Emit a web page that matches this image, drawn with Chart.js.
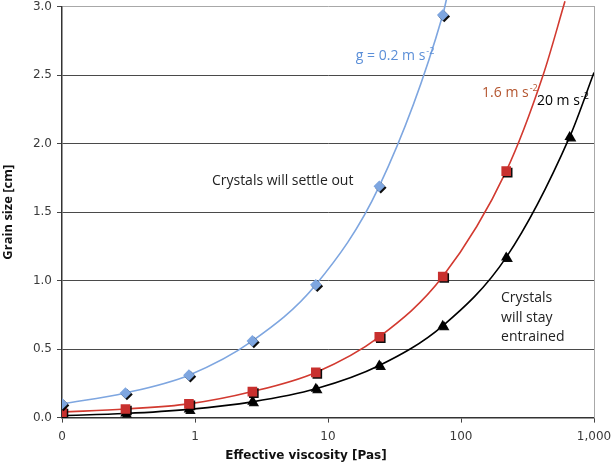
<!DOCTYPE html>
<html>
<head>
<meta charset="utf-8">
<script src="https://cdn.jsdelivr.net/npm/chart.js@4.4.0/dist/chart.umd.min.js"></script>
<style>
  html, body { margin: 0; padding: 0; background: #fff; }
  #wrap { width: 612px; height: 463px; }
</style>
</head>
<body>
<div id="wrap"><canvas id="chart"></canvas></div>
<script>
// effective viscosity [Pas] of each run, shared by all three series
var viscosity = [0.1, 0.3, 0.9, 2.7, 8.1, 24.3, 72.9, 218.7, 656.1];
// grain size [cm] for each gravity
var grainG02 = [0.10, 0.18, 0.31, 0.56, 0.97, 1.69, 2.94];
var grainG16 = [0.04, 0.063, 0.10, 0.19, 0.33, 0.59, 1.03, 1.80];
var grainG20 = [0.015, 0.03, 0.06, 0.115, 0.21, 0.38, 0.67, 1.17, 2.05];
// where each drawn curve carries on past its last measured point
var curveEndG02 = [[78, 3.06]];
var curveEndG16 = [[414, 2.5], [605, 3.04]];
var curveEndG20 = [[1000, 2.52]];

var xTicks = [0.1, 1, 10, 100, 1000];
var xTickLabels = ['0', '1', '10', '100', '1,000'];
var yTicks = [0, 0.5, 1.0, 1.5, 2.0, 2.5, 3.0];

var notes = [
  { text: 'Crystals will settle out', x: 1.34, y: 1.73, color: '#222' },
  { text: 'Crystals', x: 200, y: 0.873, color: '#222' },
  { text: 'will stay', x: 200, y: 0.728, color: '#222' },
  { text: 'entrained', x: 200, y: 0.588, color: '#222' },
  { text: 'g = 0.2 m s', sup: '-2', x: 16.2, y: 2.64, color: '#5b8fd8' },
  { text: '1.6 m s', sup: '-2', x: 144, y: 2.37, color: '#b4552f' },
  { text: '20 m s', sup: '-2', x: 372, y: 2.31, color: '#000' }
];

function points(ys) {
  return ys.map(function(v, i) { return { x: viscosity[i], y: v }; });
}
function curve(ys, ends) {
  return points(ys).concat(ends.map(function(p) { return { x: p[0], y: p[1] }; }));
}

var notesPlugin = {
  id: 'notes',
  afterDatasetsDraw: function(chart) {
    var ctx = chart.ctx, xs = chart.scales.x, ys = chart.scales.y;
    notes.forEach(function(n) {
      var px = xs.getPixelForValue(n.x), py = ys.getPixelForValue(n.y);
      ctx.save();
      ctx.fillStyle = n.color;
      ctx.textBaseline = 'middle';
      ctx.textAlign = 'left';
      ctx.font = '14px "Open Sans"';
      ctx.fillText(n.text, px, py);
      if (n.sup) {
        var w = ctx.measureText(n.text).width;
        ctx.font = '9px "Open Sans"';
        ctx.fillText(n.sup, px + w + 1, py - 5);
      }
      ctx.restore();
    });
  }
};

// dark offset shadow behind the markers
var shadowPlugin = {
  id: 'markerShadow',
  beforeDatasetDraw: function(chart, args) {
    if (!chart.data.datasets[args.index].shadow) return;
    var ctx = chart.ctx;
    ctx.save();
    ctx.shadowColor = 'rgba(0,0,0,0.95)';
    ctx.shadowOffsetX = 1.5;
    ctx.shadowOffsetY = 1.5;
    ctx.shadowBlur = 0;
  },
  afterDatasetDraw: function(chart, args) {
    if (chart.data.datasets[args.index].shadow) chart.ctx.restore();
  }
};

var curveClip = { left: 0, top: 8, right: 0, bottom: 0 };
var tickFont = { family: 'DejaVu Sans', size: 12 };

new Chart(document.getElementById('chart'), {
  type: 'scatter',
  data: {
    datasets: [
      { label: 'g = 0.2', data: points(grainG02), pointStyle: 'rectRot', pointRadius: 5.8, backgroundColor: '#7ea6e0', borderWidth: 0, shadow: true, order: 1 },
      { label: 'g = 1.6', data: points(grainG16), pointStyle: 'rect', pointRadius: 6.8, backgroundColor: '#c8302e', borderWidth: 0, shadow: true, order: 1 },
      { label: 'g = 20', data: points(grainG20), pointStyle: 'triangle', pointRadius: 6, backgroundColor: '#000', borderWidth: 0, shadow: true, order: 1 },
      { label: 'g = 0.2 curve', data: curve(grainG02, curveEndG02), showLine: true, pointRadius: 0, borderColor: '#7ea6e0', borderWidth: 1.6, cubicInterpolationMode: 'monotone', clip: curveClip, order: 2 },
      { label: 'g = 1.6 curve', data: curve(grainG16, curveEndG16), showLine: true, pointRadius: 0, borderColor: '#d23a30', borderWidth: 1.6, cubicInterpolationMode: 'monotone', clip: curveClip, order: 2 },
      { label: 'g = 20 curve', data: curve(grainG20, curveEndG20), showLine: true, pointRadius: 0, borderColor: '#000', borderWidth: 1.6, cubicInterpolationMode: 'monotone', clip: curveClip, order: 2 }
    ]
  },
  options: {
    responsive: true, maintainAspectRatio: false, animation: false,
    layout: { padding: { top: 6, left: 0, right: 0, bottom: 0 } },
    plugins: {
      legend: { display: false },
      tooltip: { enabled: false },
      title: {
        display: true, position: 'bottom', text: 'Effective viscosity [Pas]', color: '#111',
        font: { family: 'DejaVu Sans', size: 12, weight: 'bold' }, padding: { top: 2, bottom: 0 }
      }
    },
    scales: {
      x: {
        type: 'logarithmic', min: 0.1, max: 1000,
        afterBuildTicks: function(scale) { scale.ticks = xTicks.map(function(v) { return { value: v }; }); },
        afterFit: function(scale) { scale.height = 29; scale.paddingLeft = 0; scale.paddingRight = 0; },
        ticks: {
          color: '#3a3a3a', font: tickFont, maxRotation: 0, padding: 7,
          callback: function(v) { return xTickLabels[xTicks.indexOf(v)]; }
        },
        grid: { drawOnChartArea: false, tickLength: 5, tickColor: '#444', tickWidth: 1 },
        border: { color: '#333', width: 1.5 }
      },
      y: {
        min: 0, max: 3,
        afterBuildTicks: function(scale) { scale.ticks = yTicks.map(function(v) { return { value: v }; }); },
        afterFit: function(scale) { scale.width = 62; scale.paddingTop = 0; scale.paddingBottom = 0; },
        ticks: { color: '#3a3a3a', font: tickFont, padding: 5, callback: function(v) { return v.toFixed(1); } },
        grid: {
          tickLength: 5, tickColor: '#444',
          color: function(c) { return c.tick && c.tick.value === 3 ? '#a8a8a8' : '#4a4a4a'; }
        },
        border: { color: '#333', width: 1.5 },
        title: {
          display: true, text: 'Grain size [cm]', color: '#111', padding: { top: 0, bottom: 0 },
          font: { family: 'Open Sans', size: 13, weight: 'bold' }
        }
      },
      y2: {
        position: 'right', min: 0, max: 3,
        afterFit: function(scale) { scale.width = 18; scale.paddingTop = 0; scale.paddingBottom = 0; },
        ticks: { display: false },
        grid: { display: false },
        border: { color: '#a8a8a8', width: 1 }
      }
    }
  },
  plugins: [notesPlugin, shadowPlugin]
});
</script>
</body>
</html>
